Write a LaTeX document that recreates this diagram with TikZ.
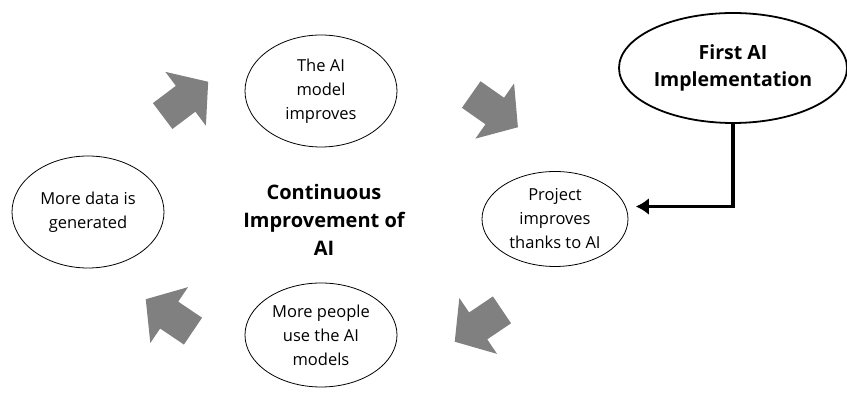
\documentclass[tikz,border=0pt]{standalone}
\usepackage{fontspec}
\setmainfont{Open Sans}
\usetikzlibrary{arrows.meta,shapes.geometric,shapes.arrows}
\definecolor{loopGray}{HTML}{808080}
\tikzset{
  font=\fontsize{16.5}{24}\selectfont,
  stage/.style={ellipse,draw=black,line width=0.8pt,fill=white,align=center,inner sep=0pt},
  start/.style={ellipse,draw=black,line width=1.8pt,fill=white,align=center,inner sep=0pt,
    font=\fontsize{19.5}{27}\selectfont\bfseries},
  hub/.style={align=center,font=\fontsize{20}{28}\selectfont\bfseries},
  loop/.style={single arrow,fill=loopGray,draw=none,inner xsep=0pt,inner ysep=16pt,
    minimum height=57pt,single arrow head extend=17.5pt,single arrow tip angle=100},
  feed/.style={-{Latex[length=13pt,width=17pt]},draw=black,line width=3.5pt},
}
\begin{document}
\begin{tikzpicture}[x=1pt,y=1pt]

\useasboundingbox (0,0) rectangle (847,398);

\node[stage,minimum width=152pt,minimum height=112pt] (improve) at (321,307) {The AI\\model\\improves};
\node[stage,minimum width=146pt,minimum height=95pt] (project) at (555,179) {Project\\improves\\thanks to AI};
\node[stage,minimum width=152pt,minimum height=104pt] (people) at (321,63) {More people\\use the AI\\models};
\node[stage,minimum width=152pt,minimum height=112pt] (data) at (88,186) {More data is\\generated};

\node[hub] (centre) at (324,178) {Continuous\\Improvement of\\AI};

\node[start,minimum width=228pt,minimum height=110pt] (first) at (733,330) {First AI\\Implementation};

\node[loop,rotate=37] (a1) at (180,295) {};
\node[loop,rotate=-35] (a2) at (489,291) {};
\node[loop,rotate=214] (a3) at (484,76) {};
\node[loop,rotate=146] (a4) at (175,79) {};

\draw[feed,shorten >=10pt] (first.south) |- (project.10);

\end{tikzpicture}
\end{document}
